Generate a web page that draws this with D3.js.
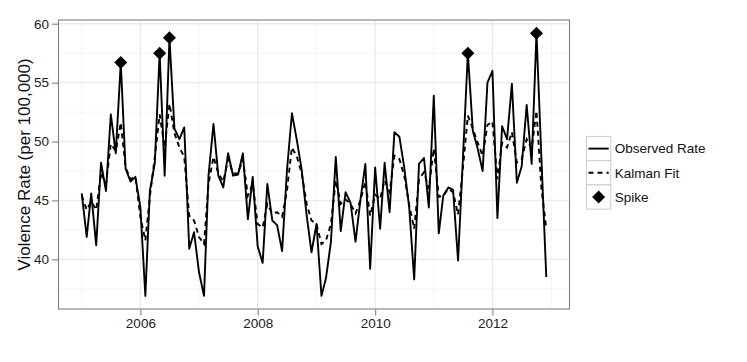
<!DOCTYPE html>
<html>
<head>
<meta charset="utf-8">
<script src="https://cdn.jsdelivr.net/npm/d3@7"></script>
<style>
  body { margin: 0; background: #fff; }
  svg { display: block; font-family: "Liberation Sans", Arial, sans-serif; }
</style>
</head>
<body>
<div id="chart"></div>
<script>
// Monthly series, Jan 2005 .. Dec 2012
const startYear = 2005;
const observed = [
  45.6, 41.9, 45.6, 41.2, 48.2, 45.8, 52.3, 49.0, 56.7, 47.7, 46.6, 47.0,
  44.4, 36.9, 45.8, 48.2, 57.5, 47.1, 58.8, 51.1, 50.2, 51.2, 40.9, 42.3,
  38.9, 36.9, 47.1, 51.5, 47.1, 46.1, 49.0, 47.1, 47.2, 49.0, 43.4, 47.0,
  41.1, 39.7, 46.4, 43.3, 42.9, 40.7, 47.5, 52.4, 50.1, 47.6, 43.7, 40.6,
  43.0, 36.9, 38.4, 41.5, 48.7, 42.4, 45.7, 44.8, 41.5, 45.0, 48.1, 39.2,
  47.8, 42.6, 48.2, 44.0, 50.8, 50.4, 47.8, 44.4, 38.3, 48.1, 48.6, 44.4,
  53.9, 42.2, 45.4, 46.1, 45.9, 39.9, 48.5, 57.5, 50.9, 49.4, 47.5, 55.0,
  56.0, 43.5, 51.3, 50.2, 54.9, 46.5, 47.9, 53.1, 48.1, 59.2, 48.5, 38.5
];
const kalmanFit = [
  45.4, 44.2, 44.9, 44.2, 47.3, 46.4, 49.8, 49.2, 51.6, 47.8, 46.8, 47.0,
  43.6, 41.6, 45.3, 48.7, 52.3, 49.5, 53.2, 50.7, 49.5, 48.7, 43.7, 43.3,
  41.9, 41.3, 46.4, 48.7, 47.3, 46.6, 48.5, 47.3, 47.3, 48.5, 45.4, 46.4,
  43.0, 42.7, 44.7, 43.9, 44.0, 43.6, 45.8, 49.5, 48.7, 47.3, 44.7, 43.3,
  43.0, 41.3, 41.6, 43.0, 46.7, 44.7, 45.1, 44.7, 43.9, 45.0, 46.6, 43.7,
  45.5, 45.1, 46.7, 45.7, 48.8, 48.5, 47.1, 44.6, 42.6, 46.8, 47.4, 46.0,
  49.4, 45.3, 45.4, 46.0, 45.7, 43.8, 47.7, 52.2, 51.1, 49.9, 48.8, 51.4,
  51.7, 46.8, 49.9, 49.5, 50.8, 48.2, 48.5, 50.2, 49.4, 52.6, 46.0, 42.6
];
// months (index into the series) flagged as spikes
const spikeIdx = [8, 16, 18, 79, 93];
const xTickYears = [2006, 2008, 2010, 2012];
const xMinorYears = [2005, 2007, 2009, 2011, 2013];
const yTicks = [40, 45, 50, 55, 60];
const yMinor = [37.5, 42.5, 47.5, 52.5, 57.5];
const legendLabels = ['Observed Rate', 'Kalman Fit', 'Spike'];

const width = 747, height = 362;
const panel = { left: 58.5, right: 569.5, top: 20, bottom: 309 };

const dates = observed.map((_, i) => new Date(startYear, i, 1));
const rows = observed.map((v, i) => ({ date: dates[i], obs: v, fit: kalmanFit[i] }));

// ggplot-style 5% expansion of the data range
const expand = (lo, hi) => { const p = (hi - lo) * 0.05; return [lo - p, hi + p]; };

const xExt = d3.extent(dates, d => +d);
const x = d3.scaleTime()
    .domain(expand(xExt[0], xExt[1]).map(t => new Date(t)))
    .range([panel.left, panel.right]);

const yExt = d3.extent(observed.concat(kalmanFit));
const y = d3.scaleLinear()
    .domain(expand(yExt[0], yExt[1]))
    .range([panel.bottom, panel.top]);

const svg = d3.select('#chart')
    .append('svg')
    .attr('width', width)
    .attr('height', height);

// Panel background + grid
const grid = svg.append('g').attr('class', 'grid');

grid.selectAll('.vminor')
    .data(xMinorYears.map(yr => new Date(yr, 0, 1)).filter(d => d >= x.domain()[0] && d <= x.domain()[1]))
    .enter()
    .append('line')
    .attr('x1', d => x(d)).attr('x2', d => x(d))
    .attr('y1', panel.top).attr('y2', panel.bottom)
    .attr('stroke', '#f5f5f5').attr('stroke-width', 1);

grid.selectAll('.hminor')
    .data(yMinor)
    .enter()
    .append('line')
    .attr('x1', panel.left).attr('x2', panel.right)
    .attr('y1', d => y(d)).attr('y2', d => y(d))
    .attr('stroke', '#f5f5f5').attr('stroke-width', 1);

grid.selectAll('.vmajor')
    .data(xTickYears.map(yr => new Date(yr, 0, 1)))
    .enter()
    .append('line')
    .attr('x1', d => x(d)).attr('x2', d => x(d))
    .attr('y1', panel.top).attr('y2', panel.bottom)
    .attr('stroke', '#ebebeb').attr('stroke-width', 1.4);

grid.selectAll('.hmajor')
    .data(yTicks)
    .enter()
    .append('line')
    .attr('x1', panel.left).attr('x2', panel.right)
    .attr('y1', d => y(d)).attr('y2', d => y(d))
    .attr('stroke', '#ebebeb').attr('stroke-width', 1.4);

// Lines
const lineObs = d3.line().x(d => x(d.date)).y(d => y(d.obs));
const lineFit = d3.line().x(d => x(d.date)).y(d => y(d.fit));

svg.append('path')
    .datum(rows)
    .attr('fill', 'none')
    .attr('stroke', '#000')
    .attr('stroke-width', 1.9)
    .attr('stroke-dasharray', '5,4')
    .attr('d', lineFit);

svg.append('path')
    .datum(rows)
    .attr('fill', 'none')
    .attr('stroke', '#000')
    .attr('stroke-width', 1.9)
    .attr('stroke-linejoin', 'round')
    .attr('d', lineObs);

// Spike markers (filled diamond, like pch 18)
const diamond = (r) => `M0,${-r}L${r},0L0,${r}L${-r},0Z`;

svg.append('g')
    .selectAll('path')
    .data(spikeIdx.map(i => rows[i]))
    .enter()
    .append('path')
    .attr('transform', d => `translate(${x(d.date)},${y(d.obs)})`)
    .attr('d', diamond(6.5))
    .attr('fill', '#000');

// Panel border
svg.append('rect')
    .attr('x', panel.left).attr('y', panel.top)
    .attr('width', panel.right - panel.left)
    .attr('height', panel.bottom - panel.top)
    .attr('fill', 'none')
    .attr('stroke', '#7f7f7f')
    .attr('stroke-width', 1.1);

// Axes
const xAxis = d3.axisBottom(x)
    .tickValues(xTickYears.map(yr => new Date(yr, 0, 1)))
    .tickFormat(d3.timeFormat('%Y'))
    .tickSize(6)
    .tickPadding(3);

const yAxis = d3.axisLeft(y)
    .tickValues(yTicks)
    .tickSize(6)
    .tickPadding(3);

const gx = svg.append('g')
    .attr('transform', `translate(0,${panel.bottom + 0.5})`)
    .call(xAxis);

const gy = svg.append('g')
    .attr('transform', `translate(${panel.left - 0.5},0)`)
    .call(yAxis);

[gx, gy].forEach(g => {
    g.select('.domain').remove();
    g.selectAll('.tick line').attr('stroke', '#7f7f7f').attr('stroke-width', 1.1);
    g.selectAll('.tick text')
        .attr('fill', '#222')
        .attr('font-size', '13.5px')
        .attr('font-family', '"Liberation Sans", Arial, sans-serif');
});

svg.append('text')
    .attr('transform', `translate(24,${(panel.top + panel.bottom) / 2}) rotate(-90)`)
    .attr('text-anchor', 'middle')
    .attr('dy', '0.35em')
    .attr('font-size', '17px')
    .attr('fill', '#111')
    .text('Violence Rate (per 100,000)');

// Legend
const keySize = 24.2;
const legend = svg.append('g')
    .attr('transform', 'translate(586.5,136.5)');

const key = legend.selectAll('g.key')
    .data(legendLabels)
    .enter()
    .append('g')
    .attr('class', 'key')
    .attr('transform', (d, i) => `translate(0,${i * keySize})`);

key.append('rect')
    .attr('width', keySize).attr('height', keySize)
    .attr('fill', '#fff')
    .attr('stroke', '#d0d0d0')
    .attr('stroke-width', 1.1);

key.append('text')
    .attr('x', keySize + 4)
    .attr('y', keySize / 2)
    .attr('dy', '0.36em')
    .attr('font-size', '13.5px')
    .attr('fill', '#111')
    .text(d => d);

key.filter((d, i) => i < 2)
    .append('line')
    .attr('x1', 2).attr('x2', keySize - 2)
    .attr('y1', keySize / 2).attr('y2', keySize / 2)
    .attr('stroke', '#000')
    .attr('stroke-width', 1.9)
    .attr('stroke-dasharray', (d, i) => i === 1 ? '5,4' : null);

key.filter((d, i) => i === 2)
    .append('path')
    .attr('transform', `translate(${keySize / 2},${keySize / 2})`)
    .attr('d', diamond(6.5))
    .attr('fill', '#000');
</script>
</body>
</html>
